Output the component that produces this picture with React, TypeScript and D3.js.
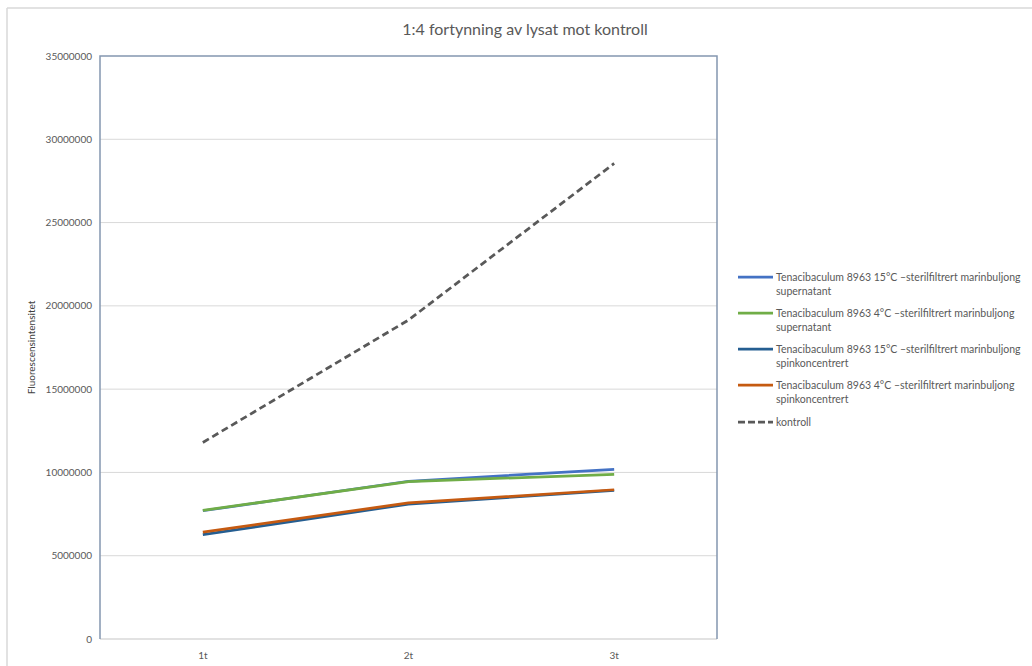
import React from "react";
import * as d3 from "d3";

const categories = ["1t", "2t", "3t"];
const yTicks = [0, 5000000, 10000000, 15000000, 20000000, 25000000, 30000000, 35000000];
const sup15 = [7700000, 9470000, 10190000];
const sup4 = [7720000, 9450000, 9890000];
const spin15 = [6260000, 8100000, 8920000];
const spin4 = [6420000, 8170000, 8960000];
const kontroll = [11800000, 19150000, 28550000];

const seriesNames = [
  ["Tenacibaculum 8963 15°C –sterilfiltrert marinbuljong", "supernatant"],
  ["Tenacibaculum 8963 4°C –sterilfiltrert marinbuljong", "supernatant"],
  ["Tenacibaculum 8963 15°C –sterilfiltrert marinbuljong", "spinkoncentrert"],
  ["Tenacibaculum 8963 4°C –sterilfiltrert marinbuljong", "spinkoncentrert"],
  ["kontroll"],
];
const seriesValues = [sup15, sup4, spin15, spin4, kontroll];
const seriesColors = ["#4472C4", "#70AD47", "#255E91", "#C55A11", "#595959"];
const seriesDash = [null, null, null, null, "7,4"];

const FONT = "Lato, 'Liberation Sans', sans-serif";

export default function App() {
  const W = 1032, H = 666;
  const pl = 100, pr = 717, pt = 56, pb = 639;
  const x = d3.scalePoint<string>().domain(categories).range([pl, pr]).padding(0.5);
  const y = d3.scaleLinear().domain([0, 35000000]).range([pb, pt]);
  const line = d3.line<number>().x((_, i) => x(categories[i])!).y((d) => y(d));

  const legendTops = [277, 313, 349, 385, 422];

  return (
    <svg width={W} height={H} style={{ position: "absolute", left: 0, top: 0, background: "#fff" }} fontFamily={FONT}>
      <rect x={0} y={0} width={W} height={H} fill="#fff" />
      <line x1={7} y1={8} x2={W} y2={8} stroke="#d9d9d9" strokeWidth={1.5} />
      <line x1={7} y1={8} x2={7} y2={H} stroke="#d9d9d9" strokeWidth={1.5} />
      <text x={525} y={35} textAnchor="middle" fontSize={16} fill="#595959">
        1:4 fortynning av lysat mot kontroll
      </text>
      {yTicks.map((t) => (
        <g key={t}>
          {t > 0 && t < 35000000 && (
            <line x1={pl} x2={pr} y1={y(t)} y2={y(t)} stroke="#d9d9d9" strokeWidth={1} />
          )}
          <text x={92} y={y(t) + 3.5} textAnchor="end" fontSize={10} fill="#595959">
            {t}
          </text>
        </g>
      ))}
      <line x1={pl} x2={pr} y1={pb} y2={pb} stroke="#d9d9d9" strokeWidth={1.5} />
      <path d={`M${pl},${pb} V${pt} H${pr} V${pb}`} fill="none" stroke="#8497B0" strokeWidth={1.5} />
      {categories.map((c) => (
        <text key={c} x={x(c)} y={659} textAnchor="middle" fontSize={10} fill="#595959">
          {c}
        </text>
      ))}
      <text
        transform={`translate(35,${(pt + pb) / 2}) rotate(-90)`}
        textAnchor="middle"
        fontSize={10}
        fill="#404040"
      >
        Fluorescensintensitet
      </text>
      {seriesValues.map((vals, i) => (
        <path
          key={i}
          d={line(vals)!}
          fill="none"
          stroke={seriesColors[i]}
          strokeWidth={2.75}
          strokeDasharray={seriesDash[i] ?? undefined}
          strokeLinejoin="round"
        />
      ))}
      {seriesNames.map((lines, i) => (
        <g key={i}>
          <line
            x1={738}
            x2={773}
            y1={legendTops[i]}
            y2={legendTops[i]}
            stroke={seriesColors[i]}
            strokeWidth={2.75}
            strokeDasharray={seriesDash[i] ? "7,3" : undefined}
          />
          {lines.map((l, j) => (
            <text key={j} x={776} y={legendTops[i] + 3.5 + j * 14.5} fontSize={10.5} fill="#595959">
              {l}
            </text>
          ))}
        </g>
      ))}
    </svg>
  );
}
